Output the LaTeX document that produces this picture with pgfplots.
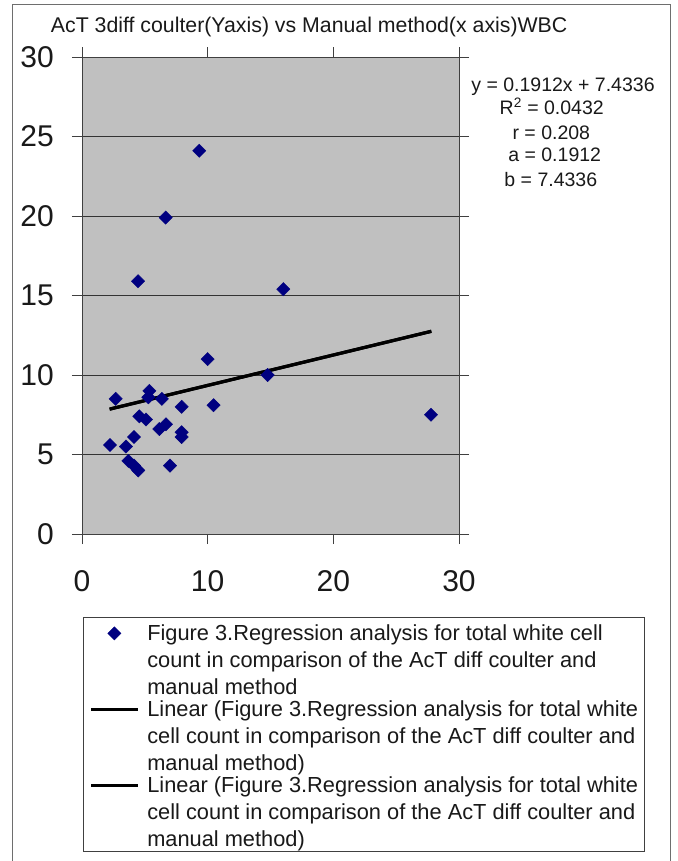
\documentclass[border=0pt]{standalone}
\usepackage{fontspec}
\setmainfont{Liberation Sans}
\usepackage{pgfplots}
\pgfplotsset{compat=1.18}
\definecolor{plotgray}{RGB}{192,192,192}
\definecolor{navy}{RGB}{0,0,128}
\definecolor{framegray}{RGB}{110,110,110}

% legend text: three lines, baseline on the last one
\newcommand{\legtext}[3]{\begin{tabular}[b]{@{}l@{}}#1\\#2\\#3\end{tabular}}

\begin{document}
\begin{tikzpicture}
\useasboundingbox (0pt,0pt) rectangle (677pt,-861pt);
% outer chart frame
\draw[framegray, line width=1pt] (12.7pt,-870pt) -- (12.7pt,-4.7pt) -- (670pt,-4.7pt) -- (670pt,-870pt);
\node[anchor=base west, inner sep=0pt, text=black!90, font=\fontsize{21.3}{25}\selectfont]
  at (50.7pt,-32.7pt) {AcT 3diff coulter(Yaxis) vs Manual method(x axis)WBC};

\begin{axis}[
  at={(82pt,-534pt)}, anchor=south west,
  scale only axis, width=377pt, height=477pt,
  xmin=0, xmax=30, ymin=0, ymax=30,
  xtick={0,10,20,30}, ytick={0,5,10,15,20,25,30},
  axis background/.style={fill=plotgray},
  axis line style={black!75, line width=1pt},
  ymajorgrids, grid style={black!80, line width=0.8pt},
  tick align=outside, major tick length=10pt,
  tick style={black!75, line width=0.8pt},
  /pgf/number format/assume math mode=true,
  ticklabel style={font=\fontsize{30}{36}\selectfont, text=black!90},
  yticklabel style={inner sep=0pt, anchor=east, xshift=-18pt},
  xticklabel style={inner sep=0pt, anchor=north, yshift=-26pt},
  legend image code/.code={\draw[mark repeat=2, mark phase=2, #1]
    plot coordinates {(0pt,61pt) (23.3pt,61pt) (46.6pt,61pt)};},
  legend style={at={(axis description cs:0.00265,-0.174)}, anchor=north west,
    draw=black!75, line width=1pt, fill=white,
    inner xsep=6pt, inner ysep=4pt, row sep=1.5pt, column sep=8pt,
    nodes={inner sep=0pt}, cells={anchor=base west},
    font=\fontsize{21.8}{27}\selectfont, text=black!90},
]
\addplot[only marks, mark=square*, mark size=4.7pt,
  mark options={rotate=45, fill=navy, draw=navy, line width=0.4pt}]
  coordinates {
  (9.33,24.1) (6.66,19.9) (4.46,15.9) (16.02,15.4) (10.0,11.0)
  (14.77,10.0) (27.77,7.5) (2.68,8.5) (5.36,9.0) (5.28,8.6)
  (6.36,8.5) (7.93,8.0) (10.47,8.1) (4.56,7.4) (5.09,7.2)
  (6.15,6.6) (6.68,6.9) (7.93,6.4) (7.93,6.1) (4.14,6.1)
  (2.23,5.6) (3.5,5.5) (3.69,4.6) (4.14,4.3) (4.48,4.0) (7.0,4.3)
  };
\addlegendentry{\legtext{Figure 3.Regression analysis for total white cell}{count in comparison of the AcT diff coulter and}{manual method}}
\addplot[black, line width=3.2pt] coordinates {(2.2,7.854) (27.8,12.749)};
\addlegendentry{\legtext{Linear (Figure 3.Regression analysis for total white}{cell count in comparison of the AcT diff coulter and}{manual method)}}
\addplot[black, line width=3.2pt] coordinates {(2.2,7.854) (27.8,12.749)};
\addlegendentry{\legtext{Linear (Figure 3.Regression analysis for total white}{cell count in comparison of the AcT diff coulter and}{manual method)}}
\end{axis}

% regression annotation
\begin{scope}[every node/.style={anchor=base, inner sep=0pt, text=black!90, font=\fontsize{19.5}{24}\selectfont}]
\node at (563pt,-91.7pt) {y = 0.1912x + 7.4336};
\node at (551.7pt,-115pt) {R\textsuperscript{2} = 0.0432};
\node at (551.3pt,-139.3pt) {r = 0.208};
\node at (554.7pt,-161.7pt) {a = 0.1912};
\node at (550.8pt,-186.7pt) {b = 7.4336};
\end{scope}
\end{tikzpicture}
\end{document}
